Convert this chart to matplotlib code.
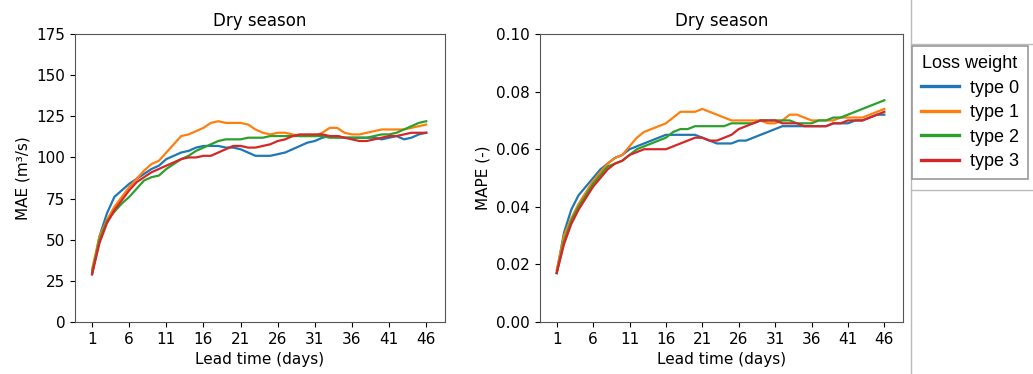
import matplotlib
matplotlib.use("Agg")
import matplotlib.pyplot as plt
from matplotlib.lines import Line2D

days = list(range(1, 47))
xticks = [1, 6, 11, 16, 21, 26, 31, 36, 41, 46]
labels = ["type 0", "type 1", "type 2", "type 3"]
colors = ["#1f77b4", "#ff7f0e", "#2ca02c", "#d62728"]

# MAE (m3/s), dry season
mae_type0 = [29, 52, 66, 76, 80, 84, 87, 90, 93, 95, 99, 101, 103, 104, 106, 107,
             107, 107, 106, 106, 105, 103, 101, 101, 101, 102, 103, 105, 107, 109,
             110, 112, 113, 113, 112, 112, 112, 112, 112, 111, 112, 113, 111, 112,
             114, 115]
mae_type1 = [32, 52, 62, 70, 76, 82, 87, 92, 96, 98, 103, 108, 113, 114, 116, 118,
             121, 122, 121, 121, 121, 120, 117, 115, 114, 115, 115, 114, 113, 113,
             113, 115, 118, 118, 115, 114, 114, 115, 116, 117, 117, 117, 117, 118,
             119, 120]
mae_type2 = [30, 50, 61, 67, 72, 76, 81, 86, 88, 89, 93, 96, 99, 101, 104, 106,
             108, 110, 111, 111, 111, 112, 112, 112, 113, 113, 113, 113, 113, 113,
             113, 113, 112, 112, 112, 112, 112, 112, 113, 114, 114, 115, 117, 119,
             121, 122]
mae_type3 = [29, 48, 60, 68, 74, 80, 85, 88, 91, 93, 95, 97, 99, 100, 100, 101,
             101, 103, 105, 107, 107, 106, 106, 107, 108, 110, 111, 113, 114, 114,
             114, 114, 113, 113, 112, 111, 110, 110, 111, 112, 113, 113, 114, 115,
             115, 115]

# MAPE (-), dry season
mape_type0 = [0.017, 0.031, 0.039, 0.044, 0.047, 0.050, 0.053, 0.055, 0.057, 0.058,
              0.060, 0.061, 0.062, 0.063, 0.064, 0.065, 0.065, 0.065, 0.065, 0.065,
              0.064, 0.063, 0.062, 0.062, 0.062, 0.063, 0.063, 0.064, 0.065, 0.066,
              0.067, 0.068, 0.068, 0.068, 0.068, 0.068, 0.068, 0.068, 0.069, 0.069,
              0.069, 0.070, 0.070, 0.071, 0.072, 0.072]
mape_type1 = [0.018, 0.030, 0.036, 0.041, 0.045, 0.049, 0.052, 0.055, 0.057, 0.058,
              0.061, 0.064, 0.066, 0.067, 0.068, 0.069, 0.071, 0.073, 0.073, 0.073,
              0.074, 0.073, 0.072, 0.071, 0.070, 0.070, 0.070, 0.070, 0.070, 0.069,
              0.069, 0.070, 0.072, 0.072, 0.071, 0.070, 0.070, 0.070, 0.070, 0.071,
              0.071, 0.071, 0.071, 0.072, 0.073, 0.074]
mape_type2 = [0.017, 0.028, 0.035, 0.040, 0.044, 0.048, 0.051, 0.054, 0.055, 0.056,
              0.058, 0.060, 0.061, 0.062, 0.063, 0.064, 0.066, 0.067, 0.067, 0.068,
              0.068, 0.068, 0.068, 0.068, 0.069, 0.069, 0.069, 0.069, 0.070, 0.070,
              0.070, 0.070, 0.070, 0.069, 0.069, 0.069, 0.070, 0.070, 0.071, 0.071,
              0.072, 0.073, 0.074, 0.075, 0.076, 0.077]
mape_type3 = [0.017, 0.027, 0.034, 0.039, 0.043, 0.047, 0.050, 0.053, 0.055, 0.056,
              0.058, 0.059, 0.060, 0.060, 0.060, 0.060, 0.061, 0.062, 0.063, 0.064,
              0.064, 0.063, 0.063, 0.064, 0.065, 0.067, 0.068, 0.069, 0.070, 0.070,
              0.070, 0.069, 0.069, 0.069, 0.068, 0.068, 0.068, 0.068, 0.069, 0.069,
              0.070, 0.070, 0.070, 0.071, 0.072, 0.073]

mae = [mae_type0, mae_type1, mae_type2, mae_type3]
mape = [mape_type0, mape_type1, mape_type2, mape_type3]

fig = plt.figure(figsize=(10.33, 3.74), dpi=100)
ax1 = fig.add_axes([0.0726, 0.139, 0.358, 0.770])
ax2 = fig.add_axes([0.5227, 0.139, 0.351, 0.770])

for vals, lab, c in zip(mae, labels, colors):
    ax1.plot(days, vals, color=c, lw=1.6, label=lab)
for vals, lab, c in zip(mape, labels, colors):
    ax2.plot(days, vals, color=c, lw=1.6, label=lab)

ax1.set_ylim(0, 175)
ax1.set_yticks(range(0, 176, 25))
ax1.set_ylabel("MAE (m³/s)", fontsize=11)
ax2.set_ylim(0, 0.1)
ax2.set_yticks([0, 0.02, 0.04, 0.06, 0.08, 0.1])
ax2.set_yticklabels(["0.00", "0.02", "0.04", "0.06", "0.08", "0.10"])
ax2.set_ylabel("MAPE (-)", fontsize=11)

for ax in (ax1, ax2):
    ax.set_xlim(-1.3, 48.5)
    ax.set_xticks(xticks)
    ax.set_xlabel("Lead time (days)", fontsize=11)
    ax.set_title("Dry season", fontsize=12)
    ax.tick_params(labelsize=11)
    for s in ax.spines.values():
        s.set_color("#555555")

# frame lines around the legend area
fig.add_artist(Line2D([911 / 1033, 911 / 1033], [0, 1], color="#bbbbbb", lw=1))
fig.add_artist(Line2D([911 / 1033, 1], [1 - 44 / 374, 1 - 44 / 374], color="#bbbbbb", lw=1))
fig.add_artist(Line2D([911 / 1033, 1], [1 - 190 / 374, 1 - 190 / 374], color="#bbbbbb", lw=1))

leg = fig.legend(handles=ax1.get_lines(), labels=labels, title="Loss weight",
                 loc="upper left", bbox_to_anchor=(912 / 1033, 1 - 46 / 374),
                 borderaxespad=0,
                 prop={"family": "Liberation Sans", "size": 13},
                 title_fontproperties={"family": "Liberation Sans", "size": 13},
                 fancybox=False, edgecolor="#999999", framealpha=1,
                 handlelength=2.1, labelspacing=0.42, borderpad=0.5,
                 handletextpad=0.6)
leg.get_frame().set_linewidth(1.2)
for line in leg.get_lines():
    line.set_linewidth(2.4)

fig.savefig("out.png", dpi=100)
